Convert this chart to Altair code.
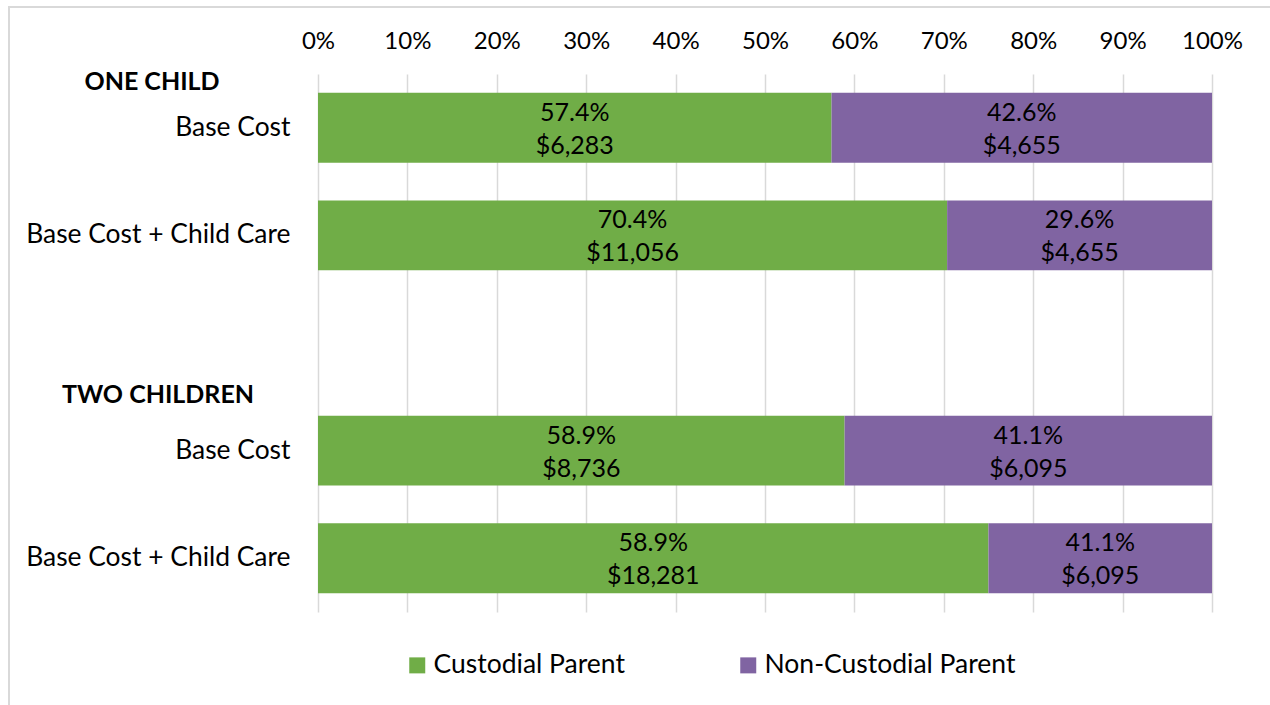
import altair as alt
import pandas as pd

# ---- data ----
row_keys = ["r1", "r2", "gap", "r3", "r4"]
row_labels = ["Base Cost", "Base Cost + Child Care", "", "Base Cost", "Base Cost + Child Care"]
bar_keys = ["r1", "r2", "r3", "r4"]
custodial_cost = [6283, 11056, 8736, 18281]
noncustodial_cost = [4655, 4655, 6095, 6095]
custodial_pct_label = ["57.4%", "70.4%", "58.9%", "58.9%"]
noncustodial_pct_label = ["42.6%", "29.6%", "41.1%", "41.1%"]
series = ["Custodial Parent", "Non-Custodial Parent"]
colors = ["#70AD47", "#8064A2"]
group_headers = ["ONE CHILD", "TWO CHILDREN"]
header_rows = ["r1", "gap"]

FONT = "Lato"
FS = 25

recs = []
for i, k in enumerate(bar_keys):
    c, n = custodial_cost[i], noncustodial_cost[i]
    tot = c + n
    recs.append(dict(key=k, series=series[0], value=c, start=0.0, end=c / tot,
                     mid=(c / 2) / tot, pct=custodial_pct_label[i], dollars=f"${c:,}"))
    recs.append(dict(key=k, series=series[1], value=n, start=c / tot, end=1.0,
                     mid=(c + n / 2) / tot, pct=noncustodial_pct_label[i], dollars=f"${n:,}"))
df = pd.DataFrame(recs)

label_expr = " : ".join(
    f"datum.value == '{k}' ? '{l}'" for k, l in zip(row_keys, row_labels)
) + " : ''"

yscale = alt.Scale(domain=row_keys, paddingInner=0.35, paddingOuter=0.175)
xscale = alt.Scale(domain=[0, 1])

base = alt.Chart(df)

bars = base.mark_bar().encode(
    y=alt.Y("key:N", scale=yscale, title=None,
            axis=alt.Axis(labelExpr=label_expr, ticks=False, domain=False, grid=False,
                          labelFontSize=26.4, labelFont=FONT, labelColor="#000000",
                          labelPadding=28, labelLimit=400)),
    x=alt.X("start:Q", scale=xscale, title=None,
            axis=alt.Axis(orient="top", format="%", values=[i / 10 for i in range(11)],
                          grid=True, gridColor="#D9D9D9", gridWidth=1.5,
                          ticks=False, domain=False, labelFontSize=24, labelFont=FONT,
                          labelColor="#000000", labelPadding=21, labelFlush=False,
                          labelOverlap=False)),
    x2="end:Q",
    color=alt.Color("series:N", scale=alt.Scale(domain=series, range=colors), title=None,
                    legend=alt.Legend(orient="none", legendX=86, legendY=578,
                                      direction="horizontal", columns=2,
                                      symbolType="square", symbolSize=256,
                                      symbolStrokeWidth=0, labelFontSize=26.5,
                                      labelFont=FONT, labelColor="#000000",
                                      labelOffset=3, columnPadding=110, padding=0,
                                      labelLimit=400)),
)

t1 = base.mark_text(fontSize=FS, font=FONT, color="#000000", dy=-15).encode(
    x=alt.X("mid:Q", scale=xscale), y=alt.Y("key:N", scale=yscale), text="pct:N")
t2 = base.mark_text(fontSize=FS, font=FONT, color="#000000", dy=18).encode(
    x=alt.X("mid:Q", scale=xscale), y=alt.Y("key:N", scale=yscale), text="dollars:N")

hdr_df = pd.DataFrame({"key": header_rows, "text": group_headers})
h1 = alt.Chart(hdr_df[hdr_df.key == "r1"]).mark_text(
    fontSize=FS, font=FONT, fontWeight="bold", color="#000000", dy=-46, align="center"
).encode(x=alt.value(-166), y=alt.Y("key:N", scale=yscale), text="text:N")
h2 = alt.Chart(hdr_df[hdr_df.key == "gap"]).mark_text(
    fontSize=FS, font=FONT, fontWeight="bold", color="#000000", dy=52, align="center"
).encode(x=alt.value(-160), y=alt.Y("key:N", scale=yscale), text="text:N")

frame = alt.Chart(pd.DataFrame({"a": [0]})).mark_rect(
    fill=None, stroke="#D9D9D9", strokeWidth=2
).encode(x=alt.value(-309), x2=alt.value(958), y=alt.value(-67), y2=alt.value(660))

chart = alt.layer(frame, bars, t1, t2, h1, h2).properties(
    width=894, height=538,
    background="white",
    autosize=alt.AutoSizeParams(type="none"),
    padding={"left": 318, "top": 74, "right": 58, "bottom": 93},
).configure_view(strokeWidth=0, stroke="transparent")

chart.save("out.html", embed_options={"renderer": "svg", "actions": False})
